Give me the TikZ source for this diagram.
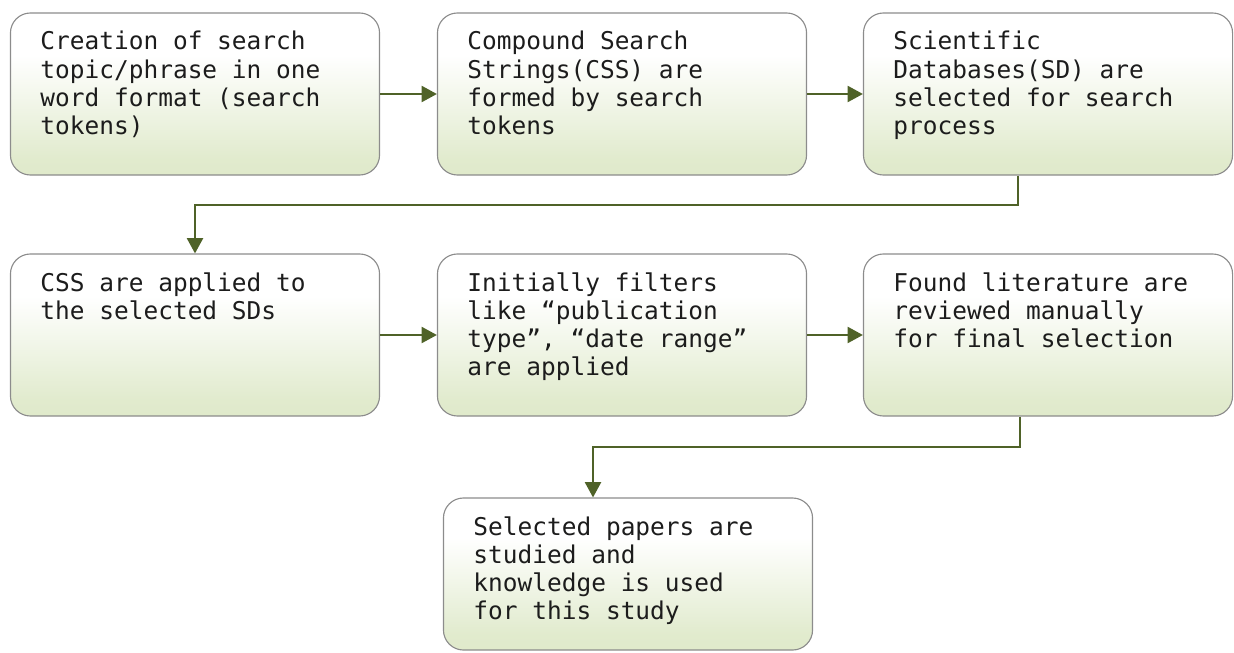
\documentclass[tikz,border=0pt]{standalone}
\usepackage{fontspec}
\setmonofont{DejaVu Sans Mono}
\usepackage{xcolor}
\usepackage{tikz}
\usetikzlibrary{arrows.meta,positioning,calc}

\definecolor{boxgreen}{HTML}{D7E4BD}
\definecolor{arrowgreen}{HTML}{4F6228}
\definecolor{textgray}{HTML}{1C1C1C}
\pgfdeclareverticalshading{boxshade}{100bp}{color(0bp)=(boxgreen); color(30bp)=(boxgreen!75!white); color(62bp)=(white); color(100bp)=(white)}

\begin{document}
\begin{tikzpicture}[x=0.025cm, y=-0.025cm,
    stepbox/.style={draw=black!45, line width=0.8pt, rounded corners=0.5cm, shading=boxshade,
      inner xsep=0.75cm, inner ysep=0.46cm, text=textgray,
      font=\ttfamily\fontsize{17.4}{20.1}\selectfont,
      execute at begin node={\begin{minipage}[c][#1][t]{7.725cm}},
      execute at end node={\end{minipage}}},
    stepbox/.default=3.13cm,
    flow/.style={draw=arrowgreen, line width=1.4pt, -{Triangle[length=0.38cm, width=0.4cm]}}]
  \useasboundingbox (0,0) rectangle (1234,652);

  \node[stepbox] (b1) at (195,94) {Creation of search\\topic/phrase in one\\word format (search\\tokens)};
  \node[stepbox] (b2) at (622,94) {Compound Search\\Strings(CSS) are\\formed by search\\tokens};
  \node[stepbox] (b3) at (1048,94) {Scientific\\Databases(SD) are\\selected for search\\process};

  \node[stepbox] (b4) at (195,335) {CSS are applied to\\the selected SDs};
  \node[stepbox] (b5) at (622,335) {Initially filters\\like “publication\\type”, “date range”\\are applied};
  \node[stepbox] (b6) at (1048,335) {Found literature are\\reviewed manually\\for final selection};

  \node[stepbox=2.88cm] (b7) at (628,574) {Selected papers are\\studied and\\knowledge is used\\for this study};

  \draw[flow] (b1) -- (b2);
  \draw[flow] (b2) -- (b3);
  \draw[flow] (b4) -- (b5);
  \draw[flow] (b5) -- (b6);

  % turns between the rows
  \coordinate (t1) at (1018,205);
  \coordinate (t2) at (195,205);
  \draw[flow] (b3.south -| t1) -- (t1) -- (t2) -- (b4);

  \coordinate (t3) at (1020,447);
  \coordinate (t4) at (593,447);
  \draw[flow] (b6.south -| t3) -- (t3) -- (t4) -- (b7.north -| t4);
\end{tikzpicture}
\end{document}
